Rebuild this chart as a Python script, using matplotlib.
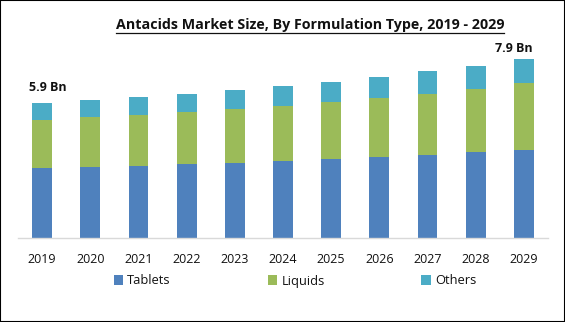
import matplotlib
matplotlib.use("Agg")
import matplotlib.pyplot as plt
from matplotlib.lines import Line2D
from matplotlib.patches import Rectangle

years = ["2019", "2020", "2021", "2022", "2023", "2024", "2025", "2026", "2027", "2028", "2029"]
tablets = [3.07, 3.11, 3.16, 3.25, 3.29, 3.38, 3.46, 3.55, 3.64, 3.77, 3.86]
liquids = [2.11, 2.19, 2.24, 2.28, 2.37, 2.41, 2.50, 2.59, 2.68, 2.76, 2.94]
others = [0.76, 0.75, 0.79, 0.79, 0.83, 0.88, 0.88, 0.92, 1.01, 1.01, 1.05]
series_names = ["Tablets", "Liquids", "Others"]
colors = ["#4f81bd", "#9bbb59", "#4bacc6"]
title = "Antacids Market Size, By Formulation Type, 2019 - 2029"
first_label = "5.9 Bn"
last_label = "7.9 Bn"

plt.rcParams['font.family'] = ['Open Sans', 'DejaVu Sans']

W, H = 565, 322
fig = plt.figure(figsize=(W / 100, H / 100), dpi=100)
ax = fig.add_axes([18 / W, (H - 238) / H, (548 - 18) / W, 198 / H])

x = list(range(len(years)))
bw = 0.41
b1 = ax.bar(x, tablets, bw, color=colors[0], label=series_names[0])
bottom2 = tablets
b2 = ax.bar(x, liquids, bw, bottom=bottom2, color=colors[1], label=series_names[1])
bottom3 = [a + b for a, b in zip(tablets, liquids)]
b3 = ax.bar(x, others, bw, bottom=bottom3, color=colors[2], label=series_names[2])

ax.set_xlim(-0.5, len(years) - 0.5)
ax.set_ylim(0, 198 / 22.8)
ax.set_xticks(x)
ax.set_xticklabels(years, fontsize=9, color="#111111")
ax.tick_params(axis='x', length=0, pad=11)
ax.set_yticks([])
for s in ["left", "right", "top"]:
    ax.spines[s].set_visible(False)
ax.spines["bottom"].set_color("#d9d9d9")
ax.spines["bottom"].set_linewidth(1)

totals = [a + b for a, b in zip(bottom3, others)]
ax.text(0.12, totals[0] + 0.68, first_label, ha='center', va='center',
        fontsize=9, fontweight='bold', color="#111111")
ax.text(9.8, totals[-1] + 0.48, last_label, ha='center', va='center',
        fontsize=9, fontweight='bold', color="#111111")

# title with underline
t = fig.text(310 / W, 1 - 25 / H, title, ha='center', va='center',
             fontsize=10.3, fontweight='bold', color="#111111")
fig.canvas.draw()
bb = t.get_window_extent(renderer=fig.canvas.get_renderer())
uy = 1 - 33 / H
fig.add_artist(Line2D([bb.x0 / W, bb.x1 / W], [uy, uy], color="#111111", lw=0.9,
                      transform=fig.transFigure))

fig.legend(handles=[b1, b2, b3], labels=series_names, loc='center',
           bbox_to_anchor=(295 / W, 1 - 281 / H), ncol=3, frameon=False,
           fontsize=9.3, handlelength=0.75, handleheight=0.75, handletextpad=0.3,
           columnspacing=7.5, labelcolor="#111111")

fig.add_artist(Rectangle((0, 0), 1, 1, transform=fig.transFigure, fill=False,
                         edgecolor='black', lw=1.5))

fig.savefig("out.png", dpi=100)
